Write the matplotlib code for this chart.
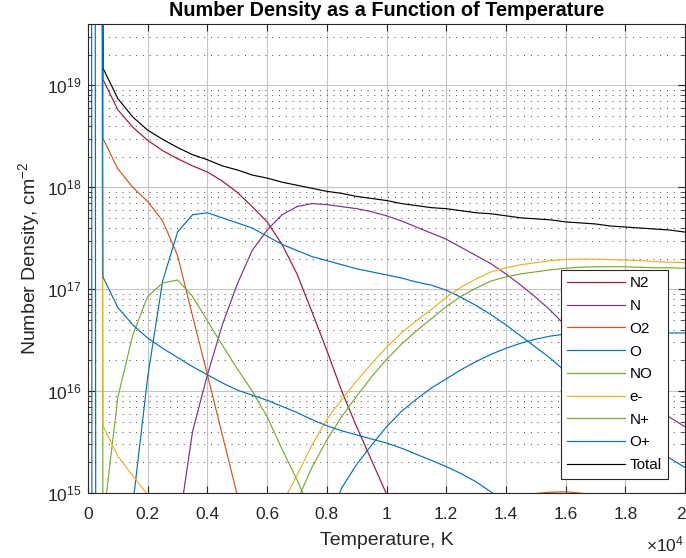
import numpy as np
import matplotlib
matplotlib.use("Agg")
import matplotlib.pyplot as plt
import matplotlib.transforms as mtransforms
from matplotlib.ticker import FixedLocator, LogLocator, NullFormatter

plt.rcParams["font.family"] = ["Liberation Sans", "DejaVu Sans"]
plt.rcParams["mathtext.fontset"] = "custom"
plt.rcParams["mathtext.rm"] = "Liberation Sans"
plt.rcParams["mathtext.it"] = "Liberation Sans:italic"
plt.rcParams["mathtext.bf"] = "Liberation Sans:bold"

# temperature grid, K
temps = np.arange(0, 20001, 500)

# log10 of number density (first point is off-scale)
total_log = [100, 19.17, 18.87, 18.69, 18.56, 18.47, 18.39, 18.32, 18.27, 18.21, 18.17,
             18.12, 18.09, 18.05, 18.02, 17.99, 17.96, 17.94, 17.91, 17.89, 17.87,
             17.84, 17.82, 17.80, 17.79, 17.77, 17.75, 17.74, 17.72, 17.70, 17.69,
             17.68, 17.66, 17.65, 17.64, 17.62, 17.61, 17.60, 17.59, 17.58, 17.56]
n2_log = [100, 19.06, 18.76, 18.59, 18.46, 18.36, 18.28, 18.21, 18.15, 18.06, 17.95,
          17.81, 17.66, 17.44, 17.15, 16.78, 16.40, 16.00, 15.65, 15.32, 14.99,
          14.70, 14.40, 14.10, 13.80, 13.55, 13.30, 13.05, 12.80, 12.60, 12.40,
          12.20, 12.00, 11.85, 11.70, 11.55, 11.40, 11.25, 11.10, 10.95, 10.80]
n_log = [-100, 3, 9, 11.5, 13.0, 13.9, 14.6, 15.6, 16.16, 16.65, 17.05,
         17.38, 17.58, 17.73, 17.81, 17.84, 17.83, 17.81, 17.79, 17.76, 17.72,
         17.67, 17.61, 17.55, 17.49, 17.41, 17.33, 17.25, 17.15, 17.04, 16.92,
         16.79, 16.64, 16.49, 16.34, 16.19, 16.06, 15.94, 15.84, 15.74, 15.65]
o2_log = [100, 18.48, 18.18, 18.00, 17.86, 17.67, 17.33, 16.74, 16.16, 15.57, 14.98,
          14.50, 14.20, 14.05, 14.00, 14.05, 14.15, 14.30, 14.45, 14.60, 14.72,
          14.82, 14.88, 14.92, 14.95, 14.96, 14.97, 14.975, 14.98, 14.985, 14.995,
          15.008, 15.012, 14.998, 14.98, 14.96, 14.93, 14.90, 14.87, 14.84, 14.80]
o_log = [80, -170, 13.5, 14.88, 16.14, 17.08, 17.56, 17.73, 17.75, 17.70, 17.65,
         17.60, 17.52, 17.44, 17.38, 17.32, 17.28, 17.24, 17.20, 17.17, 17.14,
         17.11, 17.07, 17.04, 16.99, 16.92, 16.84, 16.75, 16.65, 16.54, 16.43,
         16.32, 16.19, 16.06, 15.93, 15.80, 15.67, 15.55, 15.44, 15.34, 15.25]
no_log = [100, 14.70, 15.94, 16.55, 16.93, 17.06, 17.09, 16.93, 16.69, 16.45, 16.22,
          16.00, 15.75, 15.43, 15.13, 14.80, 14.50, 14.25, 14.00, 13.80, 13.60,
          13.45, 13.30, 13.15, 13.00, 12.90, 12.80, 12.70, 12.60, 12.50, 12.40,
          12.30, 12.20, 12.10, 12.00, 11.90, 11.80, 11.70, 11.60, 11.50, 11.40]
e_log = [100, 15.66, 15.36, 15.17, 14.98, 14.70, 14.45, 14.30, 14.20, 14.18, 14.20,
         14.28, 14.45, 14.90, 15.17, 15.47, 15.72, 15.92, 16.10, 16.27, 16.43,
         16.57, 16.69, 16.80, 16.92, 17.02, 17.10, 17.17, 17.21, 17.24, 17.26,
         17.28, 17.29, 17.295, 17.295, 17.29, 17.285, 17.28, 17.27, 17.265, 17.26]
np_log = [-100, -50, 0, 4, 7, 9, 10.5, 11.6, 12.4, 13.0, 13.5,
          13.9, 14.25, 14.6, 14.92, 15.25, 15.52, 15.75, 15.95, 16.14, 16.31,
          16.46, 16.59, 16.71, 16.83, 16.93, 17.01, 17.08, 17.12, 17.15, 17.17,
          17.19, 17.205, 17.215, 17.22, 17.22, 17.22, 17.215, 17.21, 17.21, 17.205]
op_log = [100, -65, -40, -20, -5, 2, 6, 8.5, 10, 11, 12,
          12.7, 13.2, 13.7, 14.0, 14.4, 14.7, 15.05, 15.28, 15.47, 15.65,
          15.80, 15.92, 16.03, 16.12, 16.21, 16.29, 16.36, 16.42, 16.47, 16.51,
          16.54, 16.56, 16.57, 16.575, 16.58, 16.58, 16.58, 16.575, 16.57, 16.57]
# unlabelled blue curve
extra_log = [100, 17.12, 16.82, 16.65, 16.52, 16.42, 16.33, 16.24, 16.16, 16.08, 16.01,
             15.96, 15.91, 15.85, 15.79, 15.72, 15.66, 15.61, 15.57, 15.53, 15.49,
             15.44, 15.38, 15.32, 15.26, 15.19, 15.11, 15.01, 14.90, 14.78, 14.65,
             14.52, 14.40, 14.28, 14.16, 14.05, 13.95, 13.85, 13.75, 13.65, 13.55]

series = [
    ("N2", n2_log, "#A2142F"),
    ("N", n_log, "#7E2F8E"),
    ("O2", o2_log, "#D95319"),
    ("O", o_log, "#0072BD"),
    ("NO", no_log, "#77AC30"),
    ("e-", e_log, "#EDB120"),
    ("N+", np_log, "#77AC30"),
    ("O+", op_log, "#0072BD"),
    ("Total", total_log, "#000000"),
    ("_nolegend_", extra_log, "#0072BD"),
]

xticks = [0, 2000, 4000, 6000, 8000, 10000, 12000, 14000, 16000, 18000, 20000]
xticklabels = ["0", "0.2", "0.4", "0.6", "0.8", "1", "1.2", "1.4", "1.6", "1.8", "2"]

fig = plt.figure(figsize=(6.86, 5.58), dpi=100)
ax = fig.add_axes([88 / 686, 1 - 493 / 558, 597 / 686, 469 / 558])

for name, vals, col in series:
    ax.plot(temps, 10.0 ** np.array(vals, dtype=float), color=col, lw=0.85, label=name)

ax.set_yscale("log")
ax.set_xlim(0, 20000)
ax.set_ylim(1e15, 4e19)
ax.xaxis.set_major_locator(FixedLocator(xticks))
ax.set_xticklabels(xticklabels)
ax.yaxis.set_minor_locator(LogLocator(base=10, subs=range(2, 10)))
ax.yaxis.set_minor_formatter(NullFormatter())

ax.set_axisbelow(True)
ax.grid(True, which="major", color="#c4c4c4", lw=0.8, ls="-")
ax.grid(True, which="minor", axis="y", color="#262626", lw=0.7, ls=(0, (1, 6)), alpha=0.85)

ax.tick_params(which="both", direction="in", top=True, right=True,
               colors="#262626", labelsize=12.5)
ax.tick_params(which="major", length=5)
ax.tick_params(which="minor", length=3)
ax.tick_params(axis="x", pad=10)
ax.tick_params(axis="y", pad=5)
for sp in ax.spines.values():
    sp.set_color("#262626")
    sp.set_linewidth(0.8)

# keep the last x tick label inside the figure
last = ax.get_xticklabels()[-1]
last.set_transform(last.get_transform() +
                   mtransforms.ScaledTranslation(-4 / 100, 0, fig.dpi_scale_trans))

ax.set_title("Number Density as a Function of Temperature",
             fontsize=14.3, fontweight="bold", pad=6)
ax.set_xlabel("Temperature, K", fontsize=14, color="#262626", labelpad=7)
ax.set_ylabel("Number Density, cm$^{-2}$", fontsize=14, color="#262626", labelpad=3)
fig.text(684 / 686, 1 - 544 / 558, r"$\times10^{4}$", ha="right", va="center",
         fontsize=12.5, color="#262626")

leg = ax.legend(loc="upper left", bbox_to_anchor=(561 / 686, 1 - 270 / 558),
                bbox_transform=fig.transFigure, fontsize=11, fancybox=False,
                edgecolor="#262626", framealpha=1, handlelength=3.8,
                handletextpad=0.27, labelspacing=0.57, borderpad=0.42,
                borderaxespad=0)
leg.get_frame().set_linewidth(0.8)

fig.savefig("out.png", dpi=100)
